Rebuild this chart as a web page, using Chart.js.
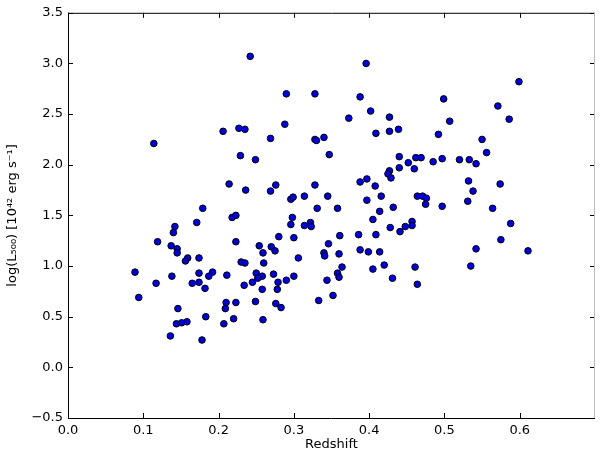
<!DOCTYPE html>
<html>
<head>
<meta charset="utf-8">
<script src="https://cdn.jsdelivr.net/npm/chart.js@4"></script>
<style>
  body { margin: 0; background: #fff; }
  canvas { display: block; }
</style>
</head>
<body>
<canvas id="lumChart" width="600" height="450"></canvas>
<script>
// redshift of each cluster
const redshift = [
  0.114, 0.179, 0.171, 0.142, 0.140, 0.218, 0.223, 0.119, 0.137, 0.145,
  0.223, 0.145, 0.159, 0.156, 0.174, 0.089, 0.138, 0.174, 0.192, 0.187,
  0.211, 0.117, 0.165, 0.174, 0.182, 0.094, 0.146, 0.210, 0.223, 0.209,
  0.183, 0.220, 0.144, 0.151, 0.158, 0.207, 0.136, 0.178, 0.242, 0.290,
  0.328, 0.388, 0.373, 0.288, 0.206, 0.227, 0.235, 0.269, 0.328, 0.330,
  0.340, 0.229, 0.249, 0.347, 0.214, 0.236, 0.269, 0.276, 0.328, 0.296,
  0.299, 0.314, 0.345, 0.388, 0.397, 0.416, 0.331, 0.358, 0.414, 0.432,
  0.405, 0.298, 0.296, 0.314, 0.322, 0.323, 0.428, 0.280, 0.300, 0.361,
  0.386, 0.409, 0.254, 0.270, 0.275, 0.259, 0.346, 0.388, 0.399, 0.414,
  0.340, 0.341, 0.360, 0.306, 0.230, 0.235, 0.260, 0.364, 0.405, 0.420,
  0.431, 0.250, 0.258, 0.252, 0.245, 0.273, 0.279, 0.290, 0.300, 0.358,
  0.360, 0.344, 0.234, 0.258, 0.278, 0.352, 0.249, 0.276, 0.283, 0.333,
  0.259, 0.396, 0.402, 0.427, 0.499, 0.571, 0.586, 0.507, 0.409, 0.427,
  0.439, 0.492, 0.550, 0.556, 0.440, 0.452, 0.462, 0.469, 0.485, 0.497,
  0.520, 0.533, 0.542, 0.440, 0.460, 0.427, 0.425, 0.429, 0.397, 0.408,
  0.464, 0.471, 0.476, 0.532, 0.538, 0.574, 0.531, 0.475, 0.497, 0.564,
  0.588, 0.441, 0.448, 0.457, 0.457, 0.575, 0.542, 0.611, 0.461, 0.535,
  0.464, 0.599
];

// log(L500) in units of 1e42 erg/s
const logL = [
  2.21, 1.57, 1.43, 1.39, 1.33, 1.48, 1.50, 1.24, 1.20, 1.17,
  1.24, 1.13, 1.08, 1.05, 1.08, 0.94, 0.90, 0.93, 0.94, 0.90,
  0.91, 0.83, 0.83, 0.84, 0.78, 0.69, 0.58, 0.64, 0.64, 0.58,
  0.50, 0.48, 0.43, 0.44, 0.45, 0.43, 0.31, 0.27, 3.07, 2.70,
  2.70, 2.67, 2.46, 2.40, 2.33, 2.36, 2.35, 2.26, 2.25, 2.24,
  2.27, 2.09, 2.05, 2.10, 1.81, 1.75, 1.74, 1.80, 1.80, 1.66,
  1.68, 1.69, 1.69, 1.83, 1.65, 1.69, 1.57, 1.57, 1.54, 1.58,
  1.46, 1.48, 1.41, 1.40, 1.43, 1.39, 1.38, 1.29, 1.28, 1.30,
  1.31, 1.31, 1.20, 1.19, 1.15, 1.13, 1.22, 1.16, 1.14, 1.14,
  1.13, 1.10, 1.12, 1.08, 1.04, 1.03, 1.03, 0.99, 0.97, 1.01,
  0.88, 0.93, 0.90, 0.88, 0.84, 0.92, 0.84, 0.86, 0.90, 0.93,
  0.89, 0.86, 0.81, 0.77, 0.77, 0.71, 0.65, 0.63, 0.59, 0.66,
  0.47, 3.00, 2.53, 2.47, 2.65, 2.58, 2.45, 2.43, 2.31, 2.33,
  2.35, 2.30, 2.25, 2.12, 2.08, 2.02, 2.07, 2.07, 2.03, 2.06,
  2.05, 2.05, 2.01, 1.97, 1.96, 1.94, 1.91, 1.87, 1.86, 1.79,
  1.69, 1.69, 1.67, 1.84, 1.74, 1.81, 1.64, 1.61, 1.59, 1.57,
  1.42, 1.34, 1.39, 1.44, 1.40, 1.26, 1.17, 1.15, 0.99, 1.00,
  0.82, 2.82
];

const xTicks = [0.0, 0.1, 0.2, 0.3, 0.4, 0.5, 0.6];
const yTicks = [-0.5, 0.0, 0.5, 1.0, 1.5, 2.0, 2.5, 3.0, 3.5];

const points = redshift.map((z, i) => ({ x: z, y: logL[i] }));

const tickFont = { family: "DejaVu Sans", size: 13 };
const fmt = (v) => v.toFixed(1).replace("-", "\u2212");

// matplotlib style frame with inward ticks on all four sides
const frame = {
  id: "frame",
  afterDraw(chart) {
    const ctx = chart.ctx;
    const a = chart.chartArea;
    const xs = chart.scales.x;
    const ys = chart.scales.y;
    const len = 5;
    ctx.save();
    ctx.strokeStyle = "#000";
    ctx.lineWidth = 1;
    ctx.beginPath();
    xTicks.forEach((t) => {
      const px = Math.round(xs.getPixelForValue(t)) + 0.5;
      ctx.moveTo(px, a.bottom);
      ctx.lineTo(px, a.bottom - len);
      ctx.moveTo(px, a.top);
      ctx.lineTo(px, a.top + len);
    });
    yTicks.forEach((t) => {
      const py = Math.round(ys.getPixelForValue(t)) + 0.5;
      ctx.moveTo(a.left, py);
      ctx.lineTo(a.left + len, py);
      ctx.moveTo(a.right, py);
      ctx.lineTo(a.right - len, py);
    });
    ctx.stroke();
    ctx.beginPath();
    ctx.moveTo(a.left, a.top + 0.5);
    ctx.lineTo(a.right, a.top + 0.5);
    ctx.moveTo(a.left + 0.5, a.top);
    ctx.lineTo(a.left + 0.5, a.bottom);
    ctx.moveTo(a.left, a.bottom + 0.5);
    ctx.lineTo(a.right, a.bottom + 0.5);
    ctx.stroke();
    ctx.strokeStyle = "#bbb";
    ctx.beginPath();
    ctx.moveTo(a.right - 0.5, a.top);
    ctx.lineTo(a.right - 0.5, a.bottom);
    ctx.stroke();
    ctx.restore();
  }
};

new Chart(document.getElementById("lumChart").getContext("2d"), {
  type: "scatter",
  data: {
    datasets: [
      {
        data: points,
        backgroundColor: "#0000e8",
        borderColor: "#000",
        borderWidth: 1,
        pointRadius: 3.3,
      },
    ],
  },
  options: {
    responsive: false,
    animation: false,
    devicePixelRatio: 1,
    layout: { padding: { top: 9, right: 3, bottom: 0, left: 0 } },
    plugins: { legend: { display: false }, tooltip: { enabled: false } },
    scales: {
      x: {
        type: "linear",
        min: 0,
        max: 0.7,
        afterFit: (s) => { s.height = 32; },
        afterBuildTicks: (s) => { s.ticks = xTicks.concat([0.7]).map((v) => ({ value: v })); },
        grid: { display: false, drawTicks: false },
        border: { display: false },
        ticks: {
          color: "#000",
          font: tickFont,
          padding: 5,
          maxRotation: 0,
          callback: (v) => (v > 0.65 ? "" : fmt(v)),
        },
        title: {
          display: true,
          text: "Redshift",
          color: "#000",
          font: tickFont,
          padding: { top: 0, bottom: -2 },
        },
      },
      y: {
        type: "linear",
        min: -0.5,
        max: 3.5,
        afterFit: (s) => { s.width = 68; },
        afterBuildTicks: (s) => { s.ticks = yTicks.map((v) => ({ value: v })); },
        grid: { display: false, drawTicks: false },
        border: { display: false },
        ticks: {
          color: "#000",
          font: tickFont,
          padding: 5,
          callback: (v) => fmt(v),
        },
        title: {
          display: true,
          text: "log(L\u2085\u2080\u2080) [10\u2074\u00b2 erg s\u207b\u00b9]",
          color: "#000",
          font: tickFont,
          padding: { top: 5, bottom: 0 },
        },
      },
    },
  },
  plugins: [frame],
});
</script>
</body>
</html>
